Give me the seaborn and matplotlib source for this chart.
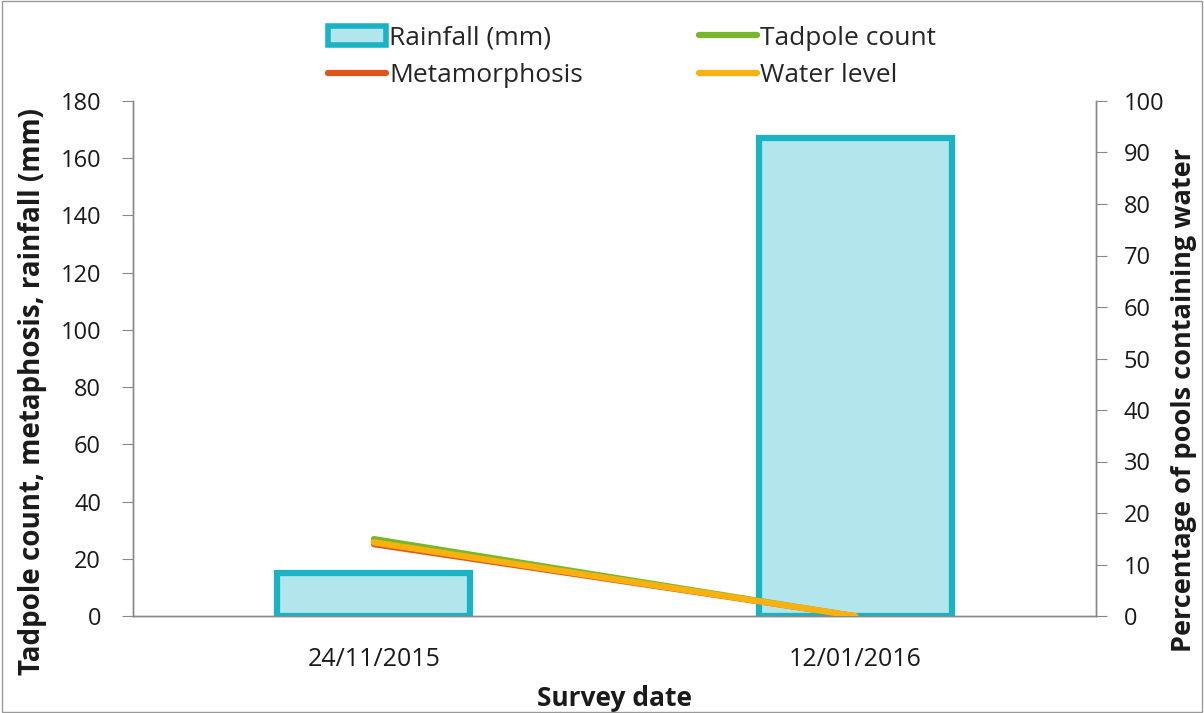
import matplotlib
matplotlib.use("Agg")
import matplotlib.pyplot as plt
import seaborn as sns
import pandas as pd
import numpy as np
from matplotlib.patches import Patch, Rectangle
from matplotlib.lines import Line2D

dates = ["24/11/2015", "12/01/2016"]
rainfall = [15, 167]
tadpole_count = [27, 0]
metamorphosis = [25, 0]
water_level = [14.3, 0]

sns.set_style("white")
plt.rcParams['font.family'] = ['Open Sans', 'DejaVu Sans']

bar_face = "#b3e5ec"
bar_edge = "#19b3c4"
c_tad = "#76b82a"
c_met = "#e2531a"
c_wat = "#f7b20f"
grey = "#888888"
txt = "#1a1a1a"

fig = plt.figure(figsize=(12.04, 7.13), dpi=100)
ax = fig.add_axes([133/1204, 1-616/713, (1096-133)/1204, (616-101)/713])
ax2 = ax.twinx()

pos = np.arange(len(dates))
df = pd.DataFrame({"date": dates, "rain": rainfall, "pos": pos})
sns.barplot(data=df, x="pos", y="rain", ax=ax, width=0.4, color=bar_face,
            edgecolor=bar_edge, linewidth=4.5, saturation=1, zorder=2)

sns.lineplot(x=pos, y=tadpole_count, ax=ax, color=c_tad, linewidth=4, zorder=3)
sns.lineplot(x=pos, y=metamorphosis, ax=ax, color=c_met, linewidth=4, zorder=3)
sns.lineplot(x=pos, y=water_level, ax=ax2, color=c_wat, linewidth=4.5, zorder=4)

ax.set_xlim(-0.5, 1.5)
ax.set_ylim(0, 180)
ax.set_yticks(np.arange(0, 181, 20))
ax2.set_ylim(0, 100)
ax2.set_yticks(np.arange(0, 101, 10))
ax.set_xticks(pos)
ax.set_xticklabels(dates)
ax.set_xticks([-0.5, 0.5, 1.5], minor=True)
ax.tick_params(axis='x', which='major', length=0, labelsize=18, pad=22)
ax.tick_params(axis='x', which='minor', length=9, color=grey, direction='out')
ax.tick_params(axis='y', length=8, color=grey, direction='out', labelsize=17, pad=15, left=True)
ax2.tick_params(axis='y', length=8, color=grey, direction='out', labelsize=17, pad=12, right=True)
for lbl in ax.get_yticklabels() + ax.get_xticklabels() + ax2.get_yticklabels():
    lbl.set_color(txt)

ax.set_xlabel("Survey date", fontsize=19, fontweight='bold', labelpad=10, color=txt)
ax.set_ylabel("Tadpole count, metaphosis, rainfall (mm)", fontsize=20, fontweight='bold',
              labelpad=10, color=txt, y=0.435)
ax2.set_ylabel("Percentage of pools containing water", fontsize=19.5, fontweight='bold',
               labelpad=5, color=txt, y=0.42)

for a in (ax, ax2):
    a.spines['top'].set_visible(False)
    for s in ('left', 'right', 'bottom'):
        a.spines[s].set_color(grey)
        a.spines[s].set_linewidth(1)
    a.grid(False)
ax.set_zorder(1)
ax2.set_zorder(2)
ax2.patch.set_visible(False)

handles = [
    Patch(facecolor=bar_face, edgecolor=bar_edge, linewidth=4, label="Rainfall (mm)"),
    Line2D([], [], color=c_met, linewidth=4.5, label="Metamorphosis"),
    Line2D([], [], color=c_tad, linewidth=4.5, label="Tadpole count"),
    Line2D([], [], color=c_wat, linewidth=4.5, label="Water level"),
]
fig.legend(handles=handles, ncol=2, loc='center', bbox_to_anchor=(632/1204, 1-57/713),
           frameon=False, fontsize=19, handlelength=2.2, handletextpad=0.1,
           columnspacing=4.4, labelspacing=0.46, handleheight=0.75, borderpad=0)

fig.patches.append(Rectangle((0.002, 0.002), 0.996, 0.996, transform=fig.transFigure,
                             fill=False, edgecolor="#999999", linewidth=1))

fig.savefig("out.png", dpi=100)
